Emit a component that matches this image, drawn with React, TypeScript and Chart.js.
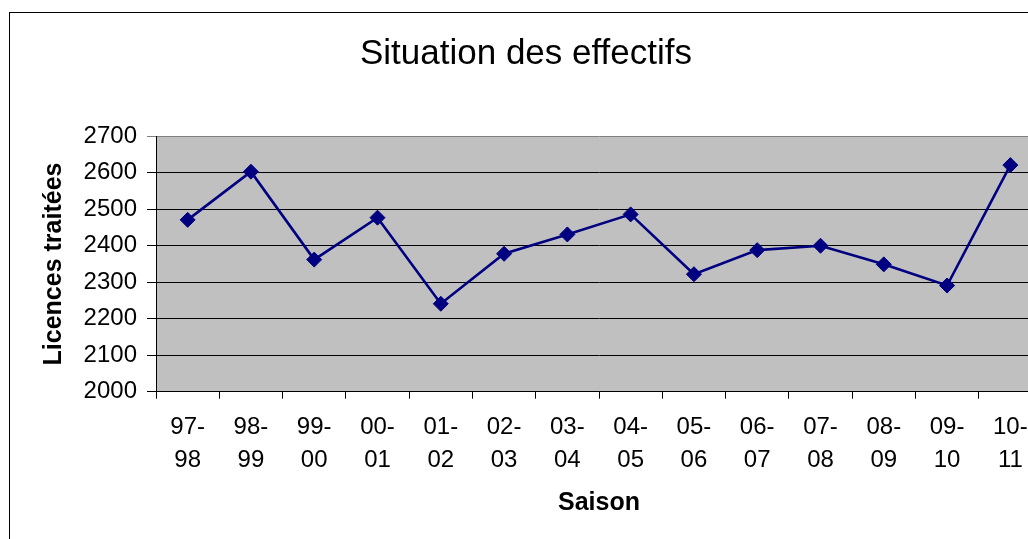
import React, { useEffect, useRef } from "react";
import { Chart, registerables } from "chart.js";

Chart.register(...registerables);

const seasons = ["97-98", "98-99", "99-00", "00-01", "01-02", "02-03", "03-04", "04-05", "05-06", "06-07", "07-08", "08-09", "09-10", "10-11"];
const licences = [2471, 2603, 2362, 2477, 2241, 2378, 2431, 2486, 2322, 2388, 2400, 2349, 2291, 2621];
const yMin = 2000;
const yMax = 2700;
const yStep = 100;

const FONT = "'Liberation Sans', Arial, Helvetica, sans-serif";

const plotBg = {
  id: "plotBg",
  beforeDraw(chart: any) {
    const { ctx, chartArea } = chart;
    ctx.save();
    ctx.fillStyle = "#C0C0C0";
    ctx.fillRect(chartArea.left, chartArea.top, chartArea.right - chartArea.left, chartArea.bottom - chartArea.top);
    ctx.restore();
  },
};

export default function App() {
  const ref = useRef<HTMLCanvasElement | null>(null);

  useEffect(() => {
    document.documentElement.style.overflow = "hidden";
    document.body.style.overflow = "hidden";
    const canvas = ref.current!;
    const chart = new Chart(canvas, {
      type: "line",
      data: {
        labels: seasons,
        datasets: [
          {
            data: licences,
            borderColor: "#000080",
            backgroundColor: "#000080",
            borderWidth: 2.6,
            pointStyle: "rectRot",
            pointRadius: 7.5,
            pointBorderWidth: 1,
            pointBackgroundColor: "#000080",
            pointBorderColor: "#000080",
            tension: 0,
            fill: false,
          },
        ],
      },
      options: {
        responsive: false,
        animation: false,
        devicePixelRatio: 1,
        layout: { padding: { top: 0, left: 10, right: 10, bottom: 0 } },
        plugins: {
          legend: { display: false },
          tooltip: { enabled: false },
          title: {
            display: true,
            text: "Situation des effectifs",
            color: "#000",
            font: { family: FONT, size: 35, weight: "normal", lineHeight: 1.2 },
            padding: { top: 33.2, bottom: 61.1 },
          },
        },
        scales: {
          x: {
            type: "category",
            offset: true,
            grid: { offset: true, drawOnChartArea: false, drawTicks: true, tickLength: 7, color: "#000", lineWidth: 1 },
            border: { display: true, color: "#000", width: 1 },
            ticks: {
              color: "#000",
              font: { family: FONT, size: 24, lineHeight: 1.36 },
              padding: 12.4,
              maxRotation: 0,
              minRotation: 0,
              autoSkip: false,
              callback: function (this: any, v: any) {
                const s: string = this.getLabelForValue(v);
                const parts = s.split("-");
                return [parts[0] + "-", parts[1]];
              },
            },
            title: {
              display: true,
              text: "Saison",
              color: "#000",
              font: { family: FONT, size: 25, weight: "bold", lineHeight: 1.2 },
              padding: { top: 0, bottom: 41.4 },
            },
            afterFit: (s: any) => {
              s.height = 168.3;
            },
          },
          y: {
            min: yMin,
            max: yMax,
            ticks: {
              stepSize: yStep,
              color: "#000",
              font: { family: FONT, size: 24 },
              padding: 10,
              callback: (v: any) => String(v),
            },
            grid: {
              color: (c: any) => (c.tick && c.tick.value === yMax ? "#808080" : "#000"),
              tickLength: 9,
              lineWidth: 1,
            },
            border: { display: true, color: "#000", width: 1 },
            title: {
              display: true,
              text: "Licences traitées",
              color: "#000",
              font: { family: FONT, size: 25, weight: "bold", lineHeight: 1.2 },
              padding: { top: 29.6, bottom: 0 },
            },
            afterFit: (s: any) => {
              s.width = 146;
            },
          },
        },
      },
      plugins: [plotBg],
    } as any);
    return () => chart.destroy();
  }, []);

  return (
    <div>
      <div
        style={{
          position: "fixed",
          left: 9,
          top: 12,
          width: 1100,
          height: 600,
          border: "1px solid #000",
          boxSizing: "border-box",
        }}
      />
      <canvas
        ref={ref}
        width={1052}
        height={560}
        style={{ position: "fixed", left: 0, top: 0, width: 1052, height: 560 }}
      />
    </div>
  );
}
